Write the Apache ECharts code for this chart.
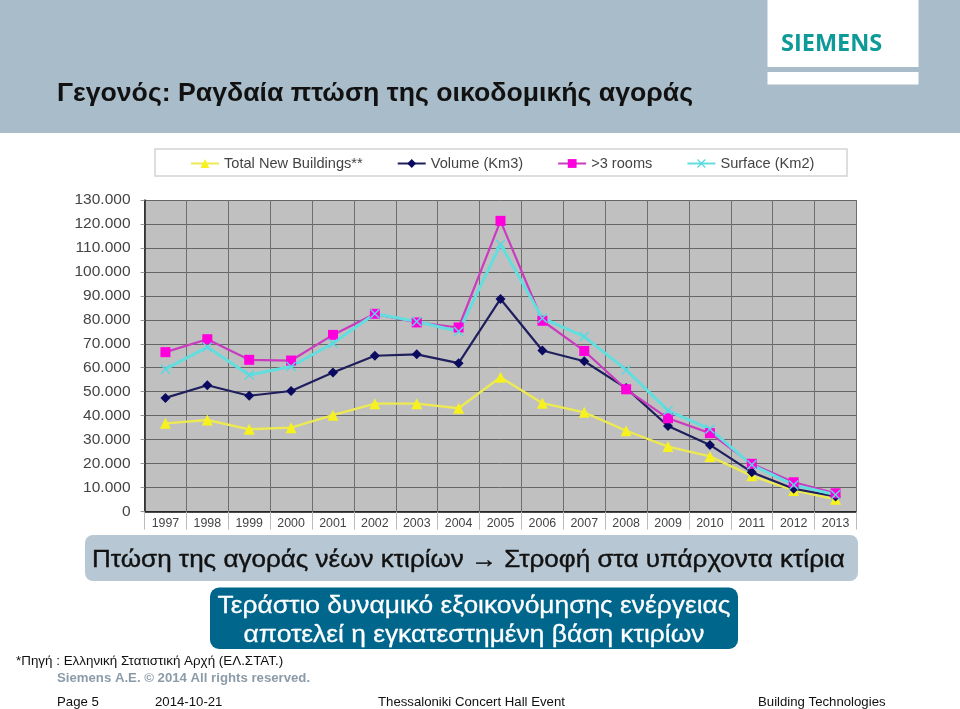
<!DOCTYPE html>
<html lang="el">
<head>
    <meta charset="UTF-8">
    <title>Γεγονός</title>
    <script src="https://cdnjs.cloudflare.com/ajax/libs/echarts/6.0.0/echarts.min.js"></script>
    <style>
        html, body { margin: 0; padding: 0; background: #fff; }
        #chart { width: 960px; height: 709px; }
    </style>
</head>
<body>
    <div id="chart"></div>
    <script>
        const years = ['1997','1998','1999','2000','2001','2002','2003','2004','2005','2006','2007','2008','2009','2010','2011','2012','2013'];
        const totalNew = [36800,38200,34300,35000,40200,45000,45000,43100,56000,45200,41400,33700,27100,23000,14900,8800,5100];
        const volume = [47400,52700,48300,50300,58000,65000,65600,61900,88700,67200,62700,51500,35700,27800,16400,9500,6300];
        const rooms = [66500,71900,63300,63000,73700,82500,78900,76800,121300,79600,67000,51000,38900,32700,19900,12200,7600];
        const surface = [59400,68600,57000,60500,70200,82500,79300,75100,111500,80700,73000,59100,42100,34400,19500,11100,7000];
        const seriesNames = ['Total New Buildings**', 'Volume (Km3)', '>3 rooms', 'Surface (Km2)'];

        const FONT = '"Liberation Sans", Arial, sans-serif';
        const X_MARK = 'path://M1 0L5 4L9 0L10 1L6 5L10 9L9 10L5 6L1 10L0 9L4 5L0 1Z';

        function label(x, y, text, size, color, extra, scaleX){
            return {
                type: 'text', x: x, y: y, z: 10, scaleX: scaleX || 1,
                style: Object.assign({text: text, fontFamily: FONT, fontSize: size, fill: color, textVerticalAlign: 'middle'}, extra || {})
            };
        }
        function box(x, y, w, h, color, r){
            return {
                type: 'rect', z: 1,
                shape: {x: x, y: y, width: w, height: h, r: r || 0},
                style: {fill: color}
            };
        }
        function line_series(name, values, color, symbol, size, width){
            return {
                name: name, type: 'line', data: values,
                symbol: symbol, symbolSize: size,
                showSymbol: true,
                lineStyle: {color: color[0], width: width},
                itemStyle: {color: color[1]},
                animation: false
            };
        }

        const chart = echarts.init(document.getElementById('chart'));
        chart.setOption({
            backgroundColor: '#fff',
            animation: false,
            grid: {left: 144.5, right: 103.5, top: 200, bottom: 197.5, backgroundColor: '#c0c0c0', show: true, borderWidth: 0},
            legend: {
                left: 190, top: 156, itemWidth: 28, itemHeight: 11, itemGap: 34,
                padding: 0,
                textStyle: {fontFamily: FONT, fontSize: 14.6, color: '#444'},
                data: seriesNames
            },
            xAxis: {
                type: 'category', data: years, boundaryGap: true,
                axisLine: {lineStyle: {color: '#111', width: 1.5}},
                axisTick: {show: true, length: 18, lineStyle: {color: '#bbb'}},
                axisLabel: {fontFamily: FONT, fontSize: 12.4, color: '#444', margin: 6},
                splitLine: {show: true, lineStyle: {color: '#6e6e6e', width: 1}}
            },
            yAxis: {
                type: 'value', min: 0, max: 130000, interval: 10000,
                axisLine: {show: true, lineStyle: {color: '#222', width: 1.5}},
                axisTick: {show: true, length: 4, lineStyle: {color: '#999'}},
                axisLabel: {
                    fontFamily: FONT, fontSize: 15.5, color: '#444', margin: 14,
                    formatter: v => v === 0 ? '0' : (v / 1000) + '.000'
                },
                splitLine: {show: true, lineStyle: {color: '#666', width: 1}}
            },
            series: [
                line_series(seriesNames[0], totalNew, ['#ecea50', '#f7f21e'], 'triangle', 11, 2.4),
                line_series(seriesNames[1], volume, ['#1f1f5e', '#0a0a60'], 'diamond', 10, 2.2),
                line_series(seriesNames[2], rooms, ['#c93cc0', '#ff00dc'], 'rect', 10, 2.2),
                line_series(seriesNames[3], surface, ['#63dede', '#58d8e0'], X_MARK, 10, 3)
            ],
            graphic: [
                box(0, 0, 960, 133, '#a9bcc9'),
                box(767.5, 0, 151, 67, '#fff'),
                box(767.5, 72, 151, 12.5, '#fff'),
                label(781, 44, 'SIEMENS', 23.5, '#0d9a98', {fontFamily: '"Open Sans", sans-serif', fontWeight: 700}),
                label(57, 94, 'Γεγονός: Ραγδαία πτώση της οικοδομικής αγοράς', 26.5, '#111', {fontWeight: 700}, 1.006),
                {type: 'rect', z: 0, shape: {x: 155, y: 149, width: 692, height: 27}, style: {fill: '#fff', stroke: '#d4d4d4', lineWidth: 1.5}},
                box(85, 535, 773, 46, '#b7c8d4', 8),
                // the slide text is stretched sideways a little
                label(92, 560, 'Πτώση της αγοράς νέων κτιρίων → Στροφή στα υπάρχοντα κτίρια', 24, '#111', {stroke: '#111', lineWidth: 0.4}, 1.085),
                box(210, 587.5, 528, 61.5, '#00668c', 9),
                label(474, 606, 'Τεράστιο δυναμικό εξοικονόμησης ενέργειας', 24, '#fff', {textAlign: 'center', stroke: '#fff', lineWidth: 0.3}, 1.098),
                label(474, 635, 'αποτελεί η εγκατεστημένη βάση κτιρίων', 24, '#fff', {textAlign: 'center', stroke: '#fff', lineWidth: 0.3}, 1.098),
                label(16, 661, '*Πηγή : Ελληνική Στατιστική Αρχή (ΕΛ.ΣΤΑΤ.)', 13.4, '#111'),
                label(57, 678, 'Siemens A.E. © 2014 All rights reserved.', 13.2, '#8c9ba8', {fontWeight: 700}),
                label(57, 702, 'Page 5', 13.2, '#111'),
                label(155, 702, '2014-10-21', 13.2, '#111'),
                label(378, 702, 'Thessaloniki Concert Hall Event', 13.2, '#111'),
                label(758, 702, 'Building Technologies', 13.2, '#111')
            ]
        });
    </script>
</body>
</html>
